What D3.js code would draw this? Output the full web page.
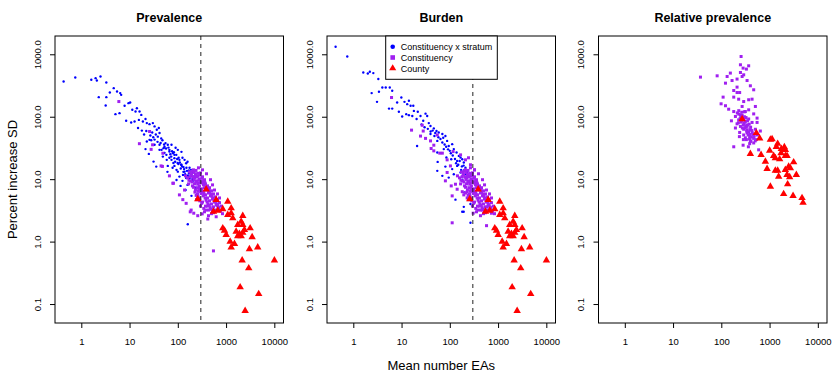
<!DOCTYPE html>
<html>
<head>
<meta charset="utf-8">
<script src="https://cdn.jsdelivr.net/npm/d3@7"></script>
<style>
body { margin: 0; background: #fff; }
text { font-family: "Liberation Sans", Arial, sans-serif; }
</style>
</head>
<body>
<div id="chart"></div>
<script>
// tick values and labels
var xTicks = [1, 10, 100, 1000, 10000];
var yTicks = [0.1, 1, 10, 100, 1000];
var yTickLabels = ["0.1", "1.0", "10.0", "100.0", "1000.0"];
var panelTitles = ["Prevalence", "Burden", "Relative prevalence"];
var seriesNames = ["Constituency x stratum", "Constituency", "County"];
var cutoff = 300;

// Prevalence: constituency x stratum [mean EAs, % increase SD]
var prevStratum = [[0.43,366],[0.75,425],[1.61,390],[1.98,415],[2.1,380],[2.5,441],[3.3,353],[4.7,287],[5.5,253],[6.4,239],[6.7,224],[3.9,244],[2.3,206],[3.3,206],[3.2,151],[7.9,150],[9.5,165],[10.3,169],[11.4,129],[13.3,121],[14.2,137],[16.1,121],[17.5,107],[15.6,89],[18.9,84],[21.4,92],[5.1,110],[6.2,114],[8.5,86],[10.8,81],[12.7,84],[22.8,79],[25.9,76],[30.4,79],[33,70],[36.7,62],[40.4,66],[22.2,59],[29.5,56],[41.8,55],[38.5,48],[45.3,45],[33,43],[28.1,42],[22.8,40],[41.8,35.5],[55.6,37.8],[62,35.5],[50.6,31.4],[21.4,30.3],[25.1,25.4],[41.8,29.5],[67,27.7],[79,26.1],[73,23],[85,21.7],[93,24.5],[100,29.5],[108,20.4],[59,20.4],[49,23],[31.4,19.1],[35.7,15.9],[62,16.3],[85,16.3],[117,17],[131,15.6],[149,18],[138,13.2],[100,13.2],[108,11],[169,12.5],[149,10.4],[189,14.1],[161,1.9],
  [176,10.4],[201,9.1],[222,11.3],[125,22],[159,19],[74,35.5],[90,31.8],[119,27.4],[138,20.4],[175,15.2],[211,13.1],[99,18.2],[67,22],[125,9.4],[78,15.2],[53,26.4],[159,8.1],[233,7.3],[145,6.7],[192,5.4],[256,4.7],[114,7.8],[94,9.7],[61,13.1],
  [25.9,42.6],[33,35.5],[38,39.6],[46,29.5],[53,33],[58,24.5],[67,29.5],[74,20.4],[85,24.5],[81,18.2],[94,14.1],[104,22],[119,17],[131,13.1],[151,15.2],[167,10.9],[183,12.2],[201,10.1],
  [27,50],[31,47],[35,52],[44,38],[48,42],[52,36],[57,31],[64,32],[70,25],[76,28],[83,27],[88,19],[97,21],[103,17.5],[110,18.5],[115,14.8],[123,16],[128,11.7],[135,14.5],[142,12],[155,13.6],[163,11.5],[170,13.8],[186,11.2],[196,12.8],[207,9.6],[215,10.8],[18,60],[20,52],[15,66]];

// constituency core cluster (shared by prevalence and burden)
var constCore = [[175,13.1],[192,11.7],[211,14.1],[222,10.5],[232,12.2],[244,9.4],[256,11.3],[268,8.7],[281,10.1],[281,7.8],[295,12.6],[310,9.1],[310,7.0],[325,10.9],[340,8.1],[340,6.3],[357,9.8],[357,7.3],[375,8.4],[375,5.6],[393,6.7],[412,7.8],[412,5.0],[432,6.0],[454,7.3],[454,4.5],[476,5.4],[499,6.5],[499,4.0],[524,4.8],[549,5.8],[549,3.6],[576,4.3],[604,5.2],[604,3.2],[634,3.9],[664,4.7],[697,3.5],[731,4.2],[766,3.1],[804,3.7],[232,6.7],[201,7.8],[256,5.8],[281,5.0],[325,4.3],[375,3.7],[432,3.2],[222,8.4],[183,9.4],[159,10.5],[167,8.4],[144,11.3],[268,15.2],[325,14.1],[393,12.2],[476,9.8],[524,8.1],[576,6.7],[664,5.8],[731,5.0],[843,2.8],[499,2.8],[432,2.6],[357,3.0],[295,3.7],[244,4.7],
  [200,13.5],[215,12.8],[238,13.8],[250,10.8],[262,12.4],[275,9.6],[288,11.6],[300,8.9],[318,10.3],[330,8.6],[345,9.3],[362,8.9],[380,7.6],[398,7.2],[420,6.9],[440,6.6],[465,6.1],[488,5.7],[512,5.3],[538,5.0],[562,4.6],[590,4.4],[620,4.1],[650,3.8],[680,3.6],[710,3.3],[248,7.3],[265,6.4],[290,6.7],[305,5.9],[320,6.2],[335,5.4],[350,5.8],[368,5.0],[385,4.6],[405,4.3],[425,4.0],[448,3.8],[470,3.5],[495,3.3],[520,3.1],[550,2.9],[215,9.9],[235,9.0],[258,8.3],[272,7.1],[300,6.3],[228,11.1],[205,10.8],[188,12.4],[180,11.0],[170,9.6],[196,9.0],[212,7.4],[226,6.2],[240,5.5],[262,5.3],[285,4.5],[312,4.1],[345,3.4],[380,3.2],[410,3.7]];

var prevConstExtra = [[6.0,175],[26,58],[16,37],[28,30],[48,16],[67,11.3],[30,35.5],[45,16.3],[49,26],[79,8.6],[108,5.6],[127,4.7],[149,4.1],[189,3.2],[259,2.6],[418,2.3],[624,2.5],[548,0.71],[138,6.7],[181,3.0],[214,2.85],[320,2.78],[673,3.87],[81,8.6]];

// Burden: constituency x stratum
var burdenStratum = [[0.43,1318],[0.75,922],[1.61,511],[2.0,492],[2.2,524],[2.6,500],[3.3,401],[2.4,239],[3.4,251],[4.0,294],[4.7,294],[5.7,294],[6.4,260],[3.1,173],[5.5,135],[6.4,135],[8.1,169],[9.9,203],[11.5,173],[13.1,159],[14.2,180],[15.4,150],[17.5,150],[8.8,120],[10.3,101],[14.2,106],[16.7,103],[18,124],[21.7,120],[24.7,103],[31.4,112],[34,103],[20.5,92],[28.1,86],[36.7,79],[39.8,71],[46.6,65],[53,59],[59,56],[70,53],[39.8,53],[48,49],[73,46],[81,49],[55,41],[70,38.6],[88,41],[95,34],[112,36.4],[75,30.3],[100,28.4],[121,30.3],[138,26.7],[154,23.6],[167,22.2],[181,20.9],[142,19.6],[107,20.9],[85,22.2],[55,26.7],[21,34],[56,18.9],[142,16.3],[112,14.5],[195,18.5],[81,15.9],[55,13.6],[70,11.3],[95,10.6],[121,12],[167,12.8],[211,15.3],[195,3.6],[181,3.0],[268,2.0],[131,4.7],[193,16.5],[181,9.8],[201,6.1],[268,4.0],[194,3.0],
  [44,60],[50,55],[58,47],[64,44],[78,36],[84,33],[92,30],[105,26],[115,24],[128,21],[135,18],[150,17],[160,19.5],[172,14],[178,16],[186,13],[200,14],[215,12],[228,13],[240,11],[26,75],[30,68],[35,64],[40,58],[12.5,110]];

var burdenConstExtra = [[6.2,203],[16.1,61],[26.8,73],[28.1,59],[39.8,41],[41,31],[62,26.1],[24.7,49],[46.6,28.4],[103,16.3],[88,12.8],[81,9.4],[107,7.8],[131,8.3],[142,6.9],[181,6.3],[211,6.0],[112,5.4],[195,5.6],[229,5.0],[305,2.85],[469,3.2],[594,3.6],[729,2.85],[577,1.8],[112,2.0],[31.4,45],[46.6,35],[55,51],[88,20.4],[117,27.7],[70,26.1],[167,24.5],[211,20.4],[244,22],[268,17],[325,14.1],[295,11.3]];

// County points (same in prevalence and burden)
var countyPts = [[387,6.9],[259,4.8],[624,4.66],[1084,4.38],[1276,3.43],[855,3.31],[548,3.03],[673,3.14],[1276,2.85],[1084,2.68],[1377,2.37],[2218,2.58],[2055,2.09],[1746,1.85],[2218,1.85],[855,1.64],[927,1.5],[1618,1.45],[1893,1.33],[2218,1.39],[2404,1.54],[3155,1.64],[1005,1.28],[1746,1.23],[2055,1.23],[3470,1.18],[1216,1.0],[1493,0.92],[1276,0.81],[3050,0.76],[4530,0.81],[2155,0.5],[10050,0.5],[2950,0.375],[1959,0.186],[4750,0.145],[2485,0.078]];

// Relative prevalence
var relConst = [[257,922],[249,679],[283,601],[369,654],[331,579],[249,511],[291,469],[270,441],[154,500],[132,441],[82,452],[37,431],[122,345],[167,380],[212,401],[342,380],[400,313],[469,270],[212,298],[181,263],[212,244],[240,244],[109,206],[181,206],[229,191],[291,175],[369,187],[434,191],[99,161],[122,150],[142,132],[181,121],[270,146],[315,121],[369,129],[508,146],[469,111],[196,101],[229,89],[270,95],[315,84],[369,92],[434,81],[551,95],[551,81],[212,77],[249,70],[291,63],[342,70],[400,62],[508,63],[240,56],[291,51],[342,55],[387,48],[469,45],[331,43],[400,40],[469,38],[181,33],[283,35],[387,37],[594,29.5],
  [249,107],[301,100],[347,74],[273,66],[226,80],[440,55],[315,46],[364,33],[533,43],[559,51],[644,59],[287,43],[237,48],[196,66],[162,86],[301,120],
  [230,110],[255,98],[280,88],[300,78],[320,70],[345,62],[370,57],[395,52],[420,47],[260,82],[285,74],[310,66],[335,59],[360,51],[385,44],[410,41],[245,93],[270,105],[295,91],[325,97],[350,86],[378,76],[405,68],[430,60],[455,52],[480,49],[505,41],[215,115],[230,125],[265,118]];

var relCounty = [[270,92],[533,55],[624,45],[1040,43],[1127,43.8],[1472,37],[2025,32.6],[1005,28.7],[1383,33],[400,25.4],[667,24.5],[1216,23.6],[1730,26.1],[2124,23.6],[2303,23.6],[1318,21.7],[1618,20.9],[818,19.1],[3155,18.7],[1472,13.7],[888,14.6],[2485,15.9],[2696,15],[2124,14.1],[2303,11.7],[2607,10.8],[3589,11.7],[1543,11],[1318,13.7],[2370,8.3],[1040,7.6],[1959,5.8],[3068,5.4],[4710,5.0],[4940,4.2],[2124,29.5],[1754,30.6]];

var colors = ["#0000FF", "#A020F0", "#FF0000"];

var W = 839, H = 373;
var plotTop = 36, ph = 287, pw = 228.5;
var lefts = [55, 327, 598.5];

var panels = [
	{title: panelTitles[0], stratum: prevStratum, constit: constCore.concat(prevConstExtra), county: countyPts, cut: true},
	{title: panelTitles[1], stratum: burdenStratum, constit: constCore.concat(burdenConstExtra), county: countyPts, cut: true},
	{title: panelTitles[2], stratum: [], constit: relConst, county: relCounty, cut: false}
];

var x = d3.scaleLog().domain([0.285, 15500]).range([0, pw]);
var y = d3.scaleLog().domain([0.0497, 1963]).range([ph, 0]);

var svg = d3.select("#chart").append("svg")
	.attr("width", W).attr("height", H);

var tri = d3.symbol().type(d3.symbolTriangle).size(24);

panels.forEach(function(p, i) {
	var g = svg.append("g").attr("transform", "translate(" + lefts[i] + "," + plotTop + ")");

	g.append("text").text(p.title)
		.attr("x", pw / 2).attr("y", -14)
		.attr("text-anchor", "middle")
		.style("font-weight", "bold").style("font-size", "12.5px");

	var xa = g.append("g").attr("transform", "translate(0," + ph + ")")
		.call(d3.axisBottom(x).tickValues(xTicks).tickFormat(function(d) { return d; }).tickSize(5).tickPadding(10));
	xa.select(".domain").remove();
	xa.selectAll("text").style("font-size", "9.5px").attr("fill", "#000");

	var ya = g.append("g")
		.call(d3.axisLeft(y).tickValues(yTicks).tickFormat(function(d, j) { return yTickLabels[j]; }).tickSize(5));
	ya.select(".domain").remove();
	ya.selectAll("text")
		.attr("x", null).attr("dy", null)
		.attr("transform", "translate(-14.5,0) rotate(-90)")
		.attr("text-anchor", "middle")
		.style("font-size", "9.5px").attr("fill", "#000");

	g.selectAll(".s").data(p.stratum).enter().append("circle")
		.attr("cx", function(d) { return x(d[0]); })
		.attr("cy", function(d) { return y(d[1]); })
		.attr("r", 1.2).attr("fill", colors[0]);

	g.selectAll(".c").data(p.constit).enter().append("rect")
		.attr("x", function(d) { return x(d[0]) - 1.5; })
		.attr("y", function(d) { return y(d[1]) - 1.5; })
		.attr("width", 3).attr("height", 3).attr("fill", colors[1]);

	g.selectAll(".k").data(p.county).enter().append("path")
		.attr("d", tri)
		.attr("transform", function(d) { return "translate(" + x(d[0]) + "," + y(d[1]) + ")"; })
		.attr("fill", colors[2]);

	if (p.cut) {
		g.append("line")
			.attr("x1", x(cutoff)).attr("x2", x(cutoff))
			.attr("y1", 0).attr("y2", ph)
			.attr("stroke", "#222").attr("stroke-dasharray", "4,4");
	}

	g.append("rect").attr("width", pw).attr("height", ph)
		.attr("fill", "none").attr("stroke", "#000");
});

// axis titles
svg.append("text").text("Percent increase SD")
	.attr("transform", "translate(17," + (plotTop + ph / 2) + ") rotate(-90)")
	.attr("text-anchor", "middle").style("font-size", "13px");
svg.append("text").text("Mean number EAs")
	.attr("x", lefts[1] + pw / 2).attr("y", 369.5)
	.attr("text-anchor", "middle").style("font-size", "13px");

// legend in Burden panel
var lg = svg.append("g").attr("transform", "translate(385.7," + plotTop + ")");
lg.append("rect").attr("width", 111.6).attr("height", 43.3)
	.attr("fill", "#fff").attr("stroke", "#000");
var li = lg.selectAll(".li").data(seriesNames).enter().append("g")
	.attr("transform", function(d, i) { return "translate(7," + (10.7 + i * 10.8) + ")"; });
li.each(function(d, i) {
	var e = d3.select(this);
	if (i === 0) e.append("circle").attr("r", 2.3).attr("fill", colors[0]);
	if (i === 1) e.append("rect").attr("x", -2.3).attr("y", -2.3).attr("width", 4.6).attr("height", 4.6).attr("fill", colors[1]);
	if (i === 2) e.append("path").attr("d", d3.symbol().type(d3.symbolTriangle).size(22)).attr("fill", colors[2]);
});
li.append("text").text(function(d) { return d; })
	.attr("x", 8).attr("y", 3.2).style("font-size", "9px");
</script>
</body>
</html>
